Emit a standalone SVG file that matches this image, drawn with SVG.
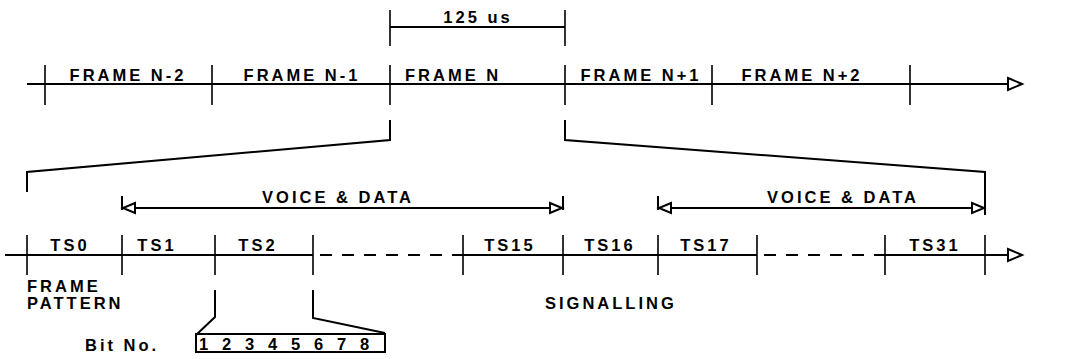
<svg xmlns="http://www.w3.org/2000/svg" width="1065" height="359" viewBox="0 0 1065 359">
<style>
.ln{stroke:#000;stroke-width:2;fill:none}
.tk{stroke:#000;stroke-width:1.6;fill:none}
.ds{stroke:#000;stroke-width:2;fill:none;stroke-dasharray:12 10}
.ah{stroke:#000;stroke-width:2;fill:#fff}
text{font-family:"Liberation Sans",Arial,sans-serif;font-weight:bold;font-size:16.5px;letter-spacing:3px;fill:#000}
.m{text-anchor:middle}
.d{letter-spacing:0}
</style>
<rect width="1065" height="359" fill="#fff"/>
<g id="connectors">
<path class="tk" d="M390 10V46M565 10V46"/>
<path class="ln" d="M390 27H565"/>
<path class="ln" d="M27 84H1008"/>
<path class="ah" d="M1008 78L1022 84L1008 90Z"/>
<path class="tk" d="M45 65V105M212 65V105M390 65V105M565 65V105M712 65V105M910 65V105"/>
<path class="ln" d="M390 120V140L27 172V192"/>
<path class="ln" d="M565 120V140L985 172V215"/>
<path class="ln" d="M122 196V210M135 208H550M563 196V210"/>
<path class="ah" d="M135 203L123 208L135 213Z"/>
<path class="ah" d="M550 203L562 208L550 213Z"/>
<path class="ln" d="M658 196V210M671 208H972"/>
<path class="ah" d="M671 203L659 208L671 213Z"/>
<path class="ah" d="M972 203L984 208L972 213Z"/>
<path class="ln" d="M5 255H313M463 255H757M885 255H1008"/>
<path class="ds" d="M320 255H463M764 255H885"/>
<path class="ah" d="M1008 249L1022 255L1008 261Z"/>
<path class="tk" d="M27 235V275M122 235V275M215 235V275M313 235V275M463 235V275M563 235V275M658 235V275M757 235V275M885 235V275M985 235V275"/>
<path class="ln" d="M215 290V317L196 335M313 290V318L385 333"/>
</g>
<g id="bitbox">
<rect class="ln" x="196" y="334" width="189" height="18"/>
<text x="199" y="350" class="d">1</text>
<text x="222" y="350" class="d">2</text>
<text x="245" y="350" class="d">3</text>
<text x="268" y="350" class="d">4</text>
<text x="291" y="350" class="d">5</text>
<text x="314" y="350" class="d">6</text>
<text x="337" y="350" class="d">7</text>
<text x="360" y="350" class="d">8</text>
</g>
<g id="labels">
<text x="478" y="23" class="m">125 us</text>
<text x="128" y="81" class="m">FRAME N-2</text>
<text x="302" y="81" class="m">FRAME N-1</text>
<text x="405" y="81">FRAME N</text>
<text x="641" y="81" class="m">FRAME N+1</text>
<text x="802" y="81" class="m">FRAME N+2</text>
<text x="338" y="203" class="m">VOICE &amp; DATA</text>
<text x="843" y="203" class="m">VOICE &amp; DATA</text>
<text x="70" y="251" class="m">TS0</text>
<text x="157" y="251" class="m">TS1</text>
<text x="258" y="251" class="m">TS2</text>
<text x="510" y="251" class="m">TS15</text>
<text x="610" y="251" class="m">TS16</text>
<text x="706" y="251" class="m">TS17</text>
<text x="935" y="251" class="m">TS31</text>
<text x="27" y="292">FRAME</text>
<text x="27" y="309">PATTERN</text>
<text x="545" y="309">SIGNALLING</text>
<text x="85" y="351">Bit No.</text>
</g>
</svg>
